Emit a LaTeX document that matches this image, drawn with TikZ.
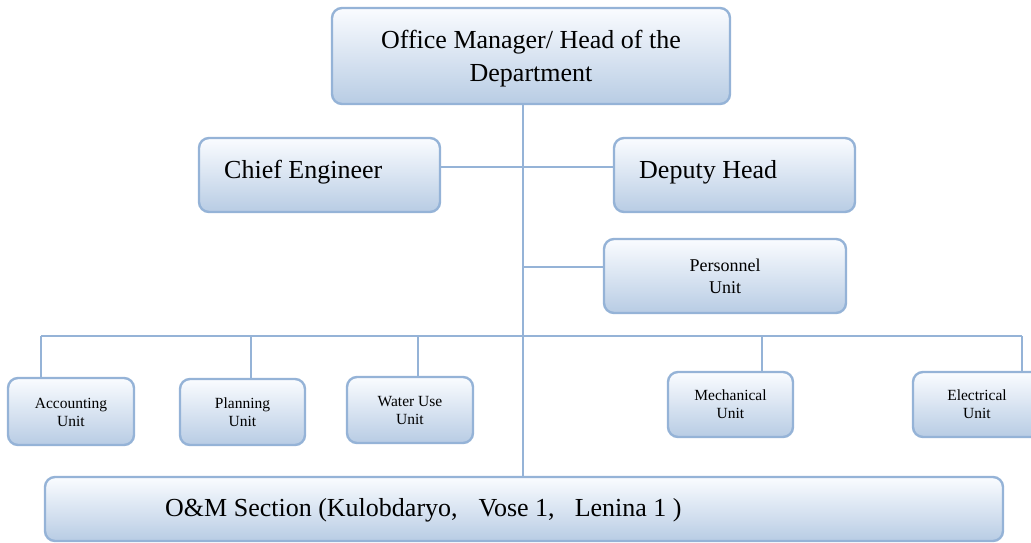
\documentclass[tikz,border=0pt]{standalone}
\usepackage{fontspec}
\setmainfont{Liberation Serif}
\definecolor{edge}{RGB}{149,179,215}
\definecolor{filltop}{RGB}{250,252,255}
\definecolor{fillbot}{RGB}{184,204,228}
\tikzset{
  unitbox/.style={draw=edge, line width=2.4pt, rounded corners=10pt,
    top color=filltop, bottom color=fillbot, inner sep=0pt},
  link/.style={draw=edge, line width=2.4pt},
  bigtext/.style={font=\fontsize{26}{33}\selectfont, inner sep=0pt},
  midtext/.style={font=\fontsize{18}{22}\selectfont, align=center, inner sep=0pt},
  smalltext/.style={font=\fontsize{15.5}{18}\selectfont, align=center, inner sep=0pt},
}
\begin{document}
\begin{tikzpicture}[x=1pt,y=-1pt]
\useasboundingbox (0,0) rectangle (1031,543);
\clip (0,0) rectangle (1031,543);

% boxes
\node[unitbox, minimum width=398pt, minimum height=96pt] (head) at (531,56) {};
\node[unitbox, minimum width=241pt, minimum height=74pt] (chief) at (319.5,175) {};
\node[unitbox, minimum width=241pt, minimum height=74pt] (deputy) at (734.5,175) {};
\node[unitbox, minimum width=242pt, minimum height=74pt] (pers) at (725,276) {};
\node[unitbox, minimum width=126pt, minimum height=67pt] (acc) at (71,411.5) {};
\node[unitbox, minimum width=125pt, minimum height=66pt] (plan) at (242.5,412) {};
\node[unitbox, minimum width=126pt, minimum height=66pt] (water) at (410,410) {};
\node[unitbox, minimum width=125pt, minimum height=65pt] (mech) at (730.5,404.5) {};
\node[unitbox, minimum width=128pt, minimum height=65pt] (elec) at (977,404.5) {};
\node[unitbox, minimum width=958pt, minimum height=64pt] (oam) at (524,509) {};

% labels
\node[bigtext, align=center] (headtxt) at (531,59) {Office Manager/ Head of the\\Department};
\node[bigtext, anchor=base west] (chieftxt) at (224,178) {Chief Engineer};
\node[bigtext, anchor=base west] (deputytxt) at (639,178) {Deputy Head};
\node[midtext] (perstxt) at (725,276) {Personnel\\Unit};
\node[smalltext] (acctxt) at (71,412) {Accounting\\Unit};
\node[smalltext] (plantxt) at (242.5,412) {Planning\\Unit};
\node[smalltext] (watertxt) at (410,410) {Water Use\\Unit};
\node[smalltext] (mechtxt) at (730.5,404.5) {Mechanical\\Unit};
\node[smalltext] (electxt) at (977,404.5) {Electrical\\Unit};
\node[bigtext, anchor=base west] (oamtxt) at (165,516) {O\&M Section (Kulobdaryo,\hspace{21pt}Vose 1,\hspace{20pt}Lenina 1 )};

% connector routing points
\coordinate (trunk) at (523,0);
\coordinate (tie) at (0,167);
\coordinate (perslvl) at (0,267);
\coordinate (bus) at (0,336);
\coordinate (d1) at (41,336);
\coordinate (d2) at (251,336);
\coordinate (d3) at (418,336);
\coordinate (d4) at (762,336);
\coordinate (d5) at (1022,336);

% connectors
\draw[link] (head.south -| trunk) -- (oam.north -| trunk);
\draw[link] (chief.east |- tie) -- (deputy.west |- tie);
\draw[link] (trunk |- perslvl) -- (pers.west |- perslvl);
\draw[link] (d1) -- (d5);
\draw[link] (d1) -- (d1 |- acc.north);
\draw[link] (d2) -- (d2 |- plan.north);
\draw[link] (d3) -- (d3 |- water.north);
\draw[link] (d4) -- (d4 |- mech.north);
\draw[link] (d5) -- (d5 |- elec.north);
\end{tikzpicture}
\end{document}
